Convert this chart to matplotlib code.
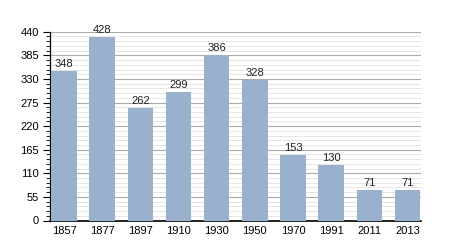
import matplotlib
matplotlib.use("Agg")
import matplotlib.pyplot as plt
from matplotlib.ticker import MultipleLocator
import numpy as np

YEARS = ["1857", "1877", "1897", "1910", "1930", "1950", "1970", "1991", "2011", "2013"]
POP = [348, 428, 262, 299, 386, 328, 153, 130, 71, 71]

plt.rcParams["font.family"] = ["Liberation Sans", "DejaVu Sans"]

fig = plt.figure(figsize=(4.5, 2.5), dpi=100)
ax = fig.add_axes([0.111, 0.118, 0.825, 0.755])

x = np.arange(len(YEARS))
ax.bar(x, POP, 0.67, color="#99b1cc", zorder=3)
for xi, v in zip(x, POP):
    ax.text(xi, v + 5, str(v), ha="center", va="bottom", fontsize=8, color="#222222")

ax.set_xlim(-0.37, 9.36)
ax.set_ylim(0, 440)
ax.set_xticks(x)
ax.set_xticklabels(YEARS)
ax.yaxis.set_major_locator(MultipleLocator(55))
ax.yaxis.set_minor_locator(MultipleLocator(11))
ax.grid(axis="y", which="major", color="#aaaaaa", linewidth=0.8, zorder=0)
ax.grid(axis="y", which="minor", color="#e2e2e2", linewidth=0.6, zorder=0)

ax.tick_params(axis="x", length=0, labelsize=8, pad=4)
ax.tick_params(axis="y", which="major", direction="out", length=5, width=0.8, labelsize=8, pad=3)
ax.tick_params(axis="y", which="minor", direction="out", length=3, width=0.6)
for s in ["top", "right"]:
    ax.spines[s].set_visible(False)
ax.spines["left"].set_linewidth(0.9)
ax.spines["bottom"].set_linewidth(1.2)

fig.savefig("out.png", dpi=100)
